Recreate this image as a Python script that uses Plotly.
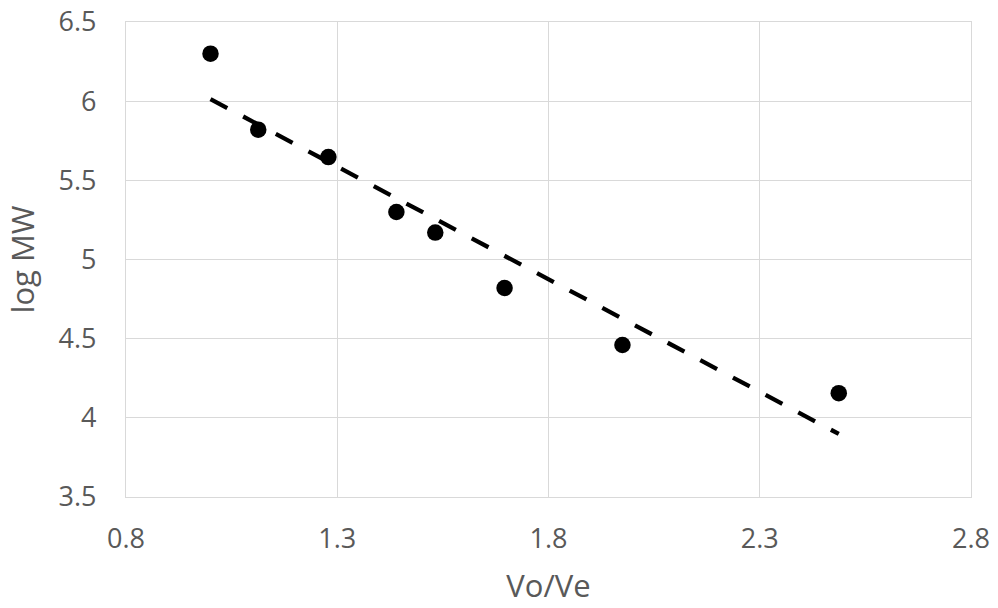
import numpy as np
import plotly.graph_objects as go

vo_ve = [1.0, 1.113, 1.279, 1.44, 1.532, 1.696, 1.975, 2.487]
log_mw = [6.30, 5.82, 5.647, 5.30, 5.17, 4.82, 4.46, 4.156]

x_ticks = [0.8, 1.3, 1.8, 2.3, 2.8]
y_ticks = [3.5, 4, 4.5, 5, 5.5, 6, 6.5]

slope, intercept = np.polyfit(vo_ve, log_mw, 1)
tx = [min(vo_ve), max(vo_ve)]
ty = [slope * v + intercept for v in tx]

FONT = "Open Sans"
GREY = "#595959"
GRID = "#d9d9d9"

fig = go.Figure()
fig.add_trace(go.Scatter(x=tx, y=ty, mode="lines",
                         line=dict(color="black", width=4.3, dash="19px,18px"),
                         showlegend=False, hoverinfo="skip"))
fig.add_trace(go.Scatter(x=vo_ve, y=log_mw, mode="markers",
                         marker=dict(color="black", size=16.5),
                         showlegend=False))

fig.update_layout(
    width=998, height=608,
    margin=dict(l=126, r=27, t=22, b=111, autoexpand=False),
    paper_bgcolor="white", plot_bgcolor="white",
    font=dict(family=FONT, color=GREY, size=27),
)
fig.update_xaxes(range=[0.8, 2.8], tickvals=x_ticks, ticktext=[str(v) for v in x_ticks],
                 showgrid=True, gridcolor=GRID, gridwidth=1.3,
                 showline=True, linecolor=GRID, linewidth=1.3, mirror=True,
                 zeroline=False, ticks="", ticklabelstandoff=17,
                 tickfont=dict(size=27, color=GREY),
                 title=dict(text="Vo/Ve", font=dict(size=31, color=GREY), standoff=20))
fig.update_yaxes(range=[3.5, 6.5], tickvals=y_ticks, ticktext=[str(v) for v in y_ticks],
                 showgrid=True, gridcolor=GRID, gridwidth=1.3,
                 showline=True, linecolor=GRID, linewidth=1.3, mirror=True,
                 zeroline=False, ticks="", ticklabelstandoff=23,
                 tickfont=dict(size=27, color=GREY),
                 title=dict(text="log MW", font=dict(size=31, color=GREY), standoff=14))

fig.write_html("out.html", config={"displayModeBar": False},
               post_script="document.body.style.margin='0';document.body.style.overflow='hidden';")
